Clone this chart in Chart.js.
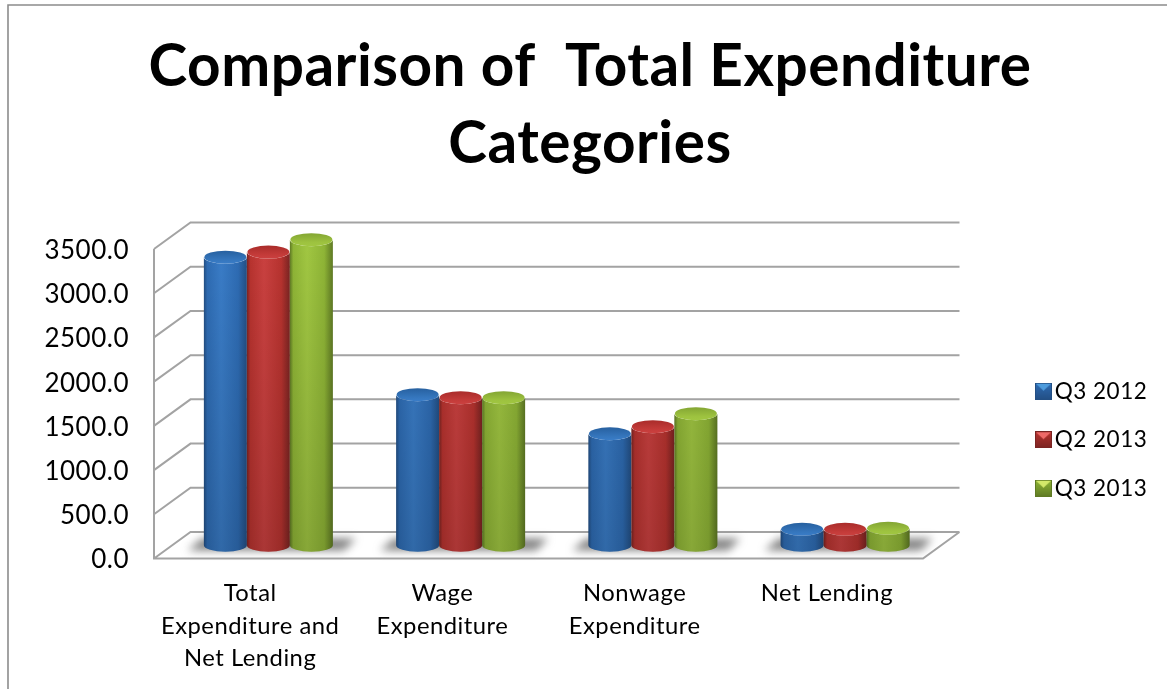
<!DOCTYPE html>
<html>
<head>
<meta charset="utf-8">
<title>Comparison of Total Expenditure Categories</title>
<script src="https://cdn.jsdelivr.net/npm/chart.js@4"></script>
<style>
    html, body { margin: 0; padding: 0; background: #fff; overflow: hidden; }
    #wrap { width: 1167px; height: 689px; }
</style>
</head>
<body>
<div id="wrap"><canvas id="expChart" width="1167" height="689"></canvas></div>
<script>
const categories = [['Total', 'Expenditure and', 'Net Lending'], ['Wage', 'Expenditure'], ['Nonwage', 'Expenditure'], 'Net Lending'];
const seriesNames = ['Q3 2012', 'Q2 2013', 'Q3 2013'];
const q3_2012 = [3258, 1703, 1261, 181];
const q2_2013 = [3315, 1669, 1341, 181];
const q3_2013 = [3456, 1669, 1488, 192];
const titleLines = ['Comparison of  Total Expenditure', 'Categories'];

const FONT = 'Lato, Carlito, sans-serif';
const DEPTH_X = 36.5, DEPTH_Y = 26.5;
// walls sit a little above the tick label centres
const LIFT = 1.5;
const LINE = '#a3a3a3';

const palette = [
    { edge: '#234f84', body: '#2e6cb4', light: '#3a7dc8', capBack: '#27609f', capFront: '#3576bd', tip: '#4d9bdc' },
    { edge: '#7a2422', body: '#b8332f', light: '#cb4140', capBack: '#a92c2a', capFront: '#c43b39', tip: '#ee6a68' },
    { edge: '#5f7a24', body: '#8fb536', light: '#a1c742', capBack: '#83a533', capFront: '#9dc23f', tip: '#d3e86a' }
];

// bevelled legend square, with spare room on the left to set it nearer the text
function legendIcon(c) {
    const cv = document.createElement('canvas');
    cv.width = 23;
    cv.height = 17;
    const g = cv.getContext('2d');
    g.translate(6, 0);
    const grad = g.createLinearGradient(0, 0, 0, 17);
    grad.addColorStop(0, c.body);
    grad.addColorStop(1, c.edge);
    g.fillStyle = grad;
    g.fillRect(0, 0, 17, 17);
    g.fillStyle = c.tip;
    g.beginPath(); g.moveTo(1, 1); g.lineTo(16, 1); g.lineTo(8.5, 8); g.fill();
    g.strokeStyle = c.edge;
    g.lineWidth = 1;
    g.strokeRect(0.5, 0.5, 16, 16);
    return cv;
}

// back wall, floor and the frame round the chart
const wallsPlugin = {
    id: 'walls',
    beforeDraw(chart) {
        chart.ctx.letterSpacing = '0.5px';
    },
    beforeDatasetsDraw(chart) {
        const ctx = chart.ctx, yAxis = chart.scales.y, area = chart.chartArea;
        ctx.save();
        ctx.strokeStyle = '#8c8c8c';
        ctx.lineWidth = 1.6;
        ctx.beginPath();
        ctx.moveTo(8, 689); ctx.lineTo(8, 5); ctx.lineTo(1167, 5);
        ctx.stroke();

        ctx.strokeStyle = LINE;
        ctx.lineWidth = 2;
        ctx.beginPath();
        yAxis.ticks.forEach(t => {
            const py = yAxis.getPixelForValue(t.value) - LIFT;
            ctx.moveTo(area.left, py);
            ctx.lineTo(area.left + DEPTH_X, py - DEPTH_Y);
            ctx.lineTo(area.right + DEPTH_X, py - DEPTH_Y);
        });
        // left edge and front of the floor
        const floor = area.bottom - LIFT;
        ctx.moveTo(area.left, yAxis.getPixelForValue(yAxis.max) - LIFT);
        ctx.lineTo(area.left, floor);
        ctx.lineTo(area.right, floor);
        ctx.lineTo(area.right + DEPTH_X, floor - DEPTH_Y);
        ctx.stroke();

        // soft shadow on the floor behind each group
        const first = chart.getDatasetMeta(0).data, last = chart.getDatasetMeta(chart.data.datasets.length - 1).data;
        ctx.filter = 'blur(4px)';
        ctx.fillStyle = 'rgba(90, 90, 90, 0.75)';
        first.forEach((bar, i) => {
            const left = bar.x - bar.width / 2 + DEPTH_X / 2 - 16;
            const right = last[i].x + last[i].width / 2 + DEPTH_X / 2 + 11;
            const yb = floor - 8;
            ctx.beginPath();
            ctx.moveTo(left, yb);
            ctx.lineTo(right, yb);
            ctx.lineTo(right + 12, yb - 12);
            ctx.lineTo(left + 14, yb - 12);
            ctx.closePath();
            ctx.fill();
        });
        ctx.restore();
    },
    afterDatasetsDraw(chart) {
        chart.data.datasets.forEach((ds, d) => {
            chart.getDatasetMeta(d).data.forEach(bar => drawCylinder(chart.ctx, bar, palette[d]));
        });
    },
    afterLayout(chart) {
        // title centred over the whole frame, legend pushed out to the right
        chart.titleBlock.left = 13;
        chart.titleBlock.right = 1167;
        chart.legend.left = 1011.5;
        chart.legend.right = 1167;
        chart.legend.top = 354;
        chart.legend.bottom = 600;
    }
};

// cylinder stood half way back on the floor
function drawCylinder(ctx, bar, c) {
    const rx = bar.width / 2, ry = 6.5;
    const cx = bar.x + DEPTH_X / 2;
    const top = bar.y - LIFT - DEPTH_Y / 2, bottom = bar.base - LIFT - DEPTH_Y / 2;
    ctx.save();
    const grad = ctx.createLinearGradient(cx - rx, 0, cx + rx, 0);
    grad.addColorStop(0, c.edge);
    grad.addColorStop(0.08, c.body);
    grad.addColorStop(0.4, c.light);
    grad.addColorStop(0.8, c.body);
    grad.addColorStop(1, c.edge);
    ctx.beginPath();
    ctx.moveTo(cx - rx, top);
    ctx.lineTo(cx - rx, bottom);
    ctx.ellipse(cx, bottom, rx, ry, 0, Math.PI, 0, true);
    ctx.lineTo(cx + rx, top);
    ctx.ellipse(cx, top, rx, ry, 0, 0, Math.PI, false);
    ctx.closePath();
    ctx.fillStyle = grad;
    ctx.fill();
    // darker towards the floor
    const shade = ctx.createLinearGradient(0, 236, 0, bottom + ry);
    shade.addColorStop(0, 'rgba(0,0,0,0)');
    shade.addColorStop(1, 'rgba(0,0,0,0.16)');
    ctx.fillStyle = shade;
    ctx.fill();
    // top cap
    const cap = ctx.createLinearGradient(0, top - ry, 0, top + ry);
    cap.addColorStop(0, c.capBack);
    cap.addColorStop(0.7, c.capFront);
    cap.addColorStop(1, c.light);
    ctx.beginPath();
    ctx.ellipse(cx, top, rx - 0.5, ry, 0, 0, Math.PI * 2);
    ctx.fillStyle = cap;
    ctx.fill();
    ctx.restore();
}

const values = [q3_2012, q2_2013, q3_2013];

new Chart(document.getElementById('expChart').getContext('2d'), {
    type: 'bar',
    data: {
        labels: categories,
        datasets: seriesNames.map((name, i) => ({
            label: name,
            data: values[i],
            backgroundColor: 'rgba(0,0,0,0)',
            borderWidth: 0,
            barPercentage: 1,
            categoryPercentage: 0.671
        }))
    },
    options: {
        responsive: false,
        animation: false,
        layout: { autoPadding: false, padding: { top: 0, left: 0, bottom: 0, right: 124 } },
        plugins: {
            tooltip: { enabled: false },
            title: {
                display: true,
                text: titleLines,
                color: '#000',
                font: { family: FONT, size: 58.5, weight: 'bold', lineHeight: '77px' },
                padding: { top: 28.5, bottom: 68 }
            },
            legend: {
                position: 'right',
                align: 'start',
                maxWidth: 120,
                labels: {
                    usePointStyle: true,
                    pointStyleWidth: 6,
                    padding: 26,
                    color: '#000',
                    font: { family: FONT, size: 22.5 },
                    generateLabels: () => seriesNames.map((name, i) => ({
                        text: name,
                        pointStyle: legendIcon(palette[i]),
                        datasetIndex: i,
                        hidden: false,
                        lineWidth: 0
                    }))
                }
            }
        },
        scales: {
            x: {
                grid: { display: false, drawTicks: false },
                border: { display: false },
                afterFit(s) { s.height = 129; },
                ticks: {
                    color: '#000',
                    maxRotation: 0,
                    autoSkip: false,
                    padding: 17.5,
                    font: { family: FONT, size: 23.8, lineHeight: '32.5px' }
                }
            },
            y: {
                min: 0,
                max: 3500,
                grid: { display: false, drawTicks: false },
                border: { display: false },
                afterFit(s) { s.width = 154; },
                ticks: {
                    stepSize: 500,
                    color: '#000',
                    padding: 25,
                    font: { family: FONT, size: 26 },
                    callback: v => v.toFixed(1)
                }
            }
        }
    },
    plugins: [wallsPlugin]
});
</script>
</body>
</html>
